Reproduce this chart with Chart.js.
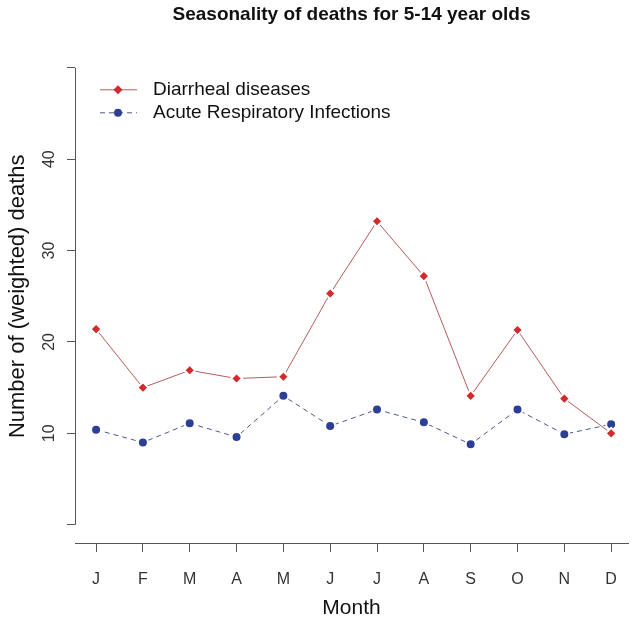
<!DOCTYPE html>
<html>
<head>
<meta charset="utf-8">
<script src="https://cdn.jsdelivr.net/npm/chart.js@4"></script>
<style>
  html, body { margin: 0; padding: 0; background: #fff; overflow: hidden; }
  #wrap { width: 632px; height: 621px; }
</style>
</head>
<body>
<div id="wrap"><canvas id="seasonChart"></canvas></div>
<script>
// data
var months = ['J', 'F', 'M', 'A', 'M', 'J', 'J', 'A', 'S', 'O', 'N', 'D'];
var diarrheal = [21.4, 15.0, 16.9, 16.0, 16.2, 25.3, 33.2, 27.2, 14.1, 21.3, 13.8, 10.0];
var respiratory = [10.4, 9.0, 11.1, 9.6, 14.1, 10.8, 12.6, 11.2, 8.8, 12.6, 9.9, 11.0];
var yTicks = [0, 10, 20, 30, 40, 50];
var yLabelled = [10, 20, 30, 40];
var yTitle = 'Number of (weighted) deaths';

function toPoints(vals) {
    return vals.map(function (v, i) { return { x: i + 1, y: v }; });
}

var axisColor = '#555555';
var font = 'Liberation Sans, Arial, sans-serif';

// R style axes: y axis line only from 0 to 50, rotated tick labels, legend inside the plot
var rStyle = {
    id: 'rStyle',
    afterDatasetsDraw: function (chart) {
        var c = chart.ctx, y = chart.scales.y, a = chart.chartArea;
        var y0 = y.getPixelForValue(yTicks[0]);
        var y1 = y.getPixelForValue(yTicks[yTicks.length - 1]);
        c.save();
        c.strokeStyle = axisColor;
        c.lineWidth = 1;
        c.beginPath();
        c.moveTo(a.left + 0.5, y0);
        c.lineTo(a.left + 0.5, y1);
        c.stroke();

        c.fillStyle = '#333';
        c.font = '16px ' + font;
        c.textAlign = 'center';
        c.textBaseline = 'middle';
        yLabelled.forEach(function (v) {
            c.save();
            c.translate(a.left - 25, y.getPixelForValue(v));
            c.rotate(-Math.PI / 2);
            c.fillText(String(v), 0, 0);
            c.restore();
        });

        // y axis title, centred on the 0-50 span like R
        c.save();
        c.fillStyle = '#111';
        c.font = '22px ' + font;
        c.translate(a.left - 57, (y0 + y1) / 2);
        c.rotate(-Math.PI / 2);
        c.fillText(yTitle, 0, 0);
        c.restore();

        // legend
        chart.data.datasets.forEach(function (ds, i) {
            var ly = a.top + 22 + i * 23;
            c.strokeStyle = ds.borderColor;
            c.setLineDash(ds.borderDash || []);
            c.beginPath();
            c.moveTo(a.left + 25, ly);
            c.lineTo(a.left + 62, ly);
            c.stroke();
            c.setLineDash([]);
            c.fillStyle = ds.pointBackgroundColor;
            c.beginPath();
            if (ds.pointStyle === 'rectRot') {
                c.moveTo(a.left + 43, ly - 4.5);
                c.lineTo(a.left + 47.5, ly);
                c.lineTo(a.left + 43, ly + 4.5);
                c.lineTo(a.left + 38.5, ly);
                c.closePath();
            } else {
                c.arc(a.left + 43, ly, 4, 0, Math.PI * 2);
            }
            c.fill();
            c.fillStyle = '#111';
            c.font = '19px ' + font;
            c.textAlign = 'left';
            c.fillText(ds.label, a.left + 78, ly);
        });
        c.restore();
    }
};

var ctx = document.getElementById('seasonChart').getContext('2d');
var myChart = new Chart(ctx, {
    type: 'line',
    data: {
        datasets: [{
            label: 'Diarrheal diseases',
            data: toPoints(diarrheal),
            borderColor: '#b35c5c',
            borderWidth: 1,
            pointStyle: 'rectRot',
            pointRadius: 5.5,
            pointBackgroundColor: '#d32a2e',
            pointBorderColor: '#ffffff',
            pointBorderWidth: 2,
            fill: false,
            tension: 0
        }, {
            label: 'Acute Respiratory Infections',
            data: toPoints(respiratory),
            borderColor: '#4f5690',
            borderWidth: 1,
            borderDash: [5, 4],
            pointStyle: 'circle',
            pointRadius: 5,
            pointBackgroundColor: '#2d3f95',
            pointBorderColor: '#ffffff',
            pointBorderWidth: 2,
            fill: false,
            tension: 0
        }]
    },
    options: {
        responsive: true,
        maintainAspectRatio: false,
        animation: false,
        events: [],
        layout: { autoPadding: false, padding: { left: 0, right: 4, top: 0, bottom: 0 } },
        plugins: {
            legend: { display: false },
            tooltip: { enabled: false },
            title: {
                display: true,
                fullSize: false,
                text: 'Seasonality of deaths for 5-14 year olds',
                color: '#111',
                font: { family: font, size: 19, weight: 'bold' },
                padding: { top: 3, bottom: 42 }
            }
        },
        scales: {
            x: {
                type: 'linear',
                min: 0.55,
                max: 12.36,
                afterBuildTicks: function (s) {
                    s.ticks = months.map(function (m, i) { return { value: i + 1 }; });
                },
                afterFit: function (s) {
                    s.height = 78;
                    s.paddingLeft = 0;
                    s.paddingRight = 0;
                },
                border: { display: true, color: axisColor, width: 1 },
                grid: { drawOnChartArea: false, drawTicks: true, tickLength: 9, color: axisColor },
                ticks: {
                    color: '#333',
                    padding: 18,
                    maxRotation: 0,
                    font: { family: font, size: 16 },
                    callback: function (v) { return months[v - 1]; }
                },
                title: {
                    display: true,
                    text: 'Month',
                    color: '#111',
                    font: { family: font, size: 21 },
                    padding: { top: 0, bottom: 0 }
                }
            },
            y: {
                min: -2,
                max: 50,
                afterBuildTicks: function (s) {
                    s.ticks = yTicks.map(function (v) { return { value: v }; });
                },
                afterFit: function (s) {
                    s.width = 75;
                    s.paddingTop = 0;
                    s.paddingBottom = 0;
                },
                border: { display: false },
                grid: { drawOnChartArea: false, drawTicks: true, tickLength: 8, color: axisColor },
                ticks: { display: false },
                title: { display: false }
            }
        }
    },
    plugins: [rStyle]
});
</script>
</body>
</html>
